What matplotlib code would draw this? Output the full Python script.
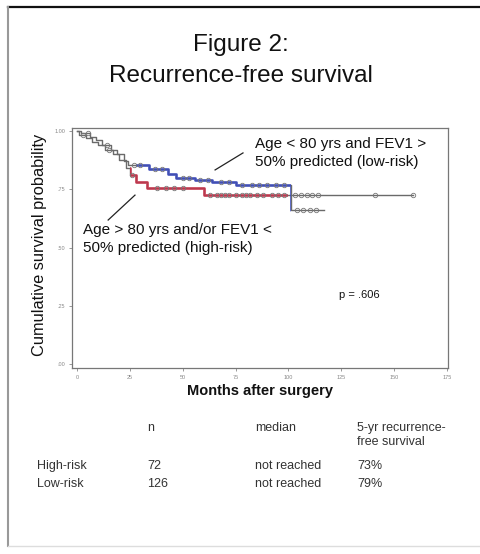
import numpy as np
import matplotlib
matplotlib.use("Agg")
import matplotlib.pyplot as plt
from matplotlib.patches import Rectangle

plt.rcParams['font.family'] = ['Liberation Sans', 'DejaVu Sans']

# Kaplan-Meier step data (months, survival)
low_t = [0, 2, 6, 9, 12, 16, 19, 22, 24, 34, 43, 47, 56, 64, 75, 101, 117]
low_s = [1.0, .99, .975, .96, .94, .92, .90, .87, .855, .835, .815, .80, .79, .78, .77, .66, .66]
high_t = [0, 1, 4, 7, 10, 13, 17, 20, 23, 25, 28, 33, 60, 159]
high_s = [1.0, .985, .97, .955, .94, .92, .90, .875, .84, .81, .78, .755, .725, .725]

# censored observations (months)
low_cens = [5, 14, 27, 30, 37, 40, 50, 53, 58, 62, 68, 72, 78, 83, 86, 90, 94, 98, 104, 107, 110, 113]
high_cens = [3, 15, 26, 38, 42, 46, 50, 63, 66, 68, 70, 72, 75, 78, 80, 82, 85, 88, 92, 95, 98,
             103, 106, 109, 111, 114, 141, 159]

x_ticks = [0, 25, 50, 75, 100, 125, 150, 175]
y_ticks = [0, .25, .5, .75, 1.0]
y_ticklabels = ['.00', '.25', '.50', '.75', '1.00']

table_cols = ['n', 'median', '5-yr recurrence-\nfree survival']
table_rows = ['High-risk', 'Low-risk']
table_n = ['72', '126']
table_median = ['not reached', 'not reached']
table_5yr = ['73%', '79%']

W, H = 481, 554
fig = plt.figure(figsize=(W / 100, H / 100), dpi=100)

def fx(px):
    return px / W

def fy(py):
    return 1 - py / H

# outer frame like a slide
fig.add_artist(plt.Line2D([fx(8), 1], [fy(7), fy(7)], color='#111111', lw=1.6))
fig.add_artist(plt.Line2D([fx(8), fx(8)], [fy(7), fy(546)], color='#999999', lw=1.5))
fig.add_artist(plt.Line2D([fx(8), 1], [fy(546), fy(546)], color='#dddddd', lw=1))

fig.text(0.5, fy(45), 'Figure 2:', ha='center', va='center', fontsize=17.5, color='#111111')
fig.text(0.5, fy(76), 'Recurrence-free survival', ha='center', va='center', fontsize=17.5,
         color='#111111')

ax = fig.add_axes([fx(72), fy(368), fx(448) - fx(72), (368 - 128) / H])
ax.set_xlim(-2.4, 175.5)
ax.set_ylim(-0.017, 1.013)


def surv_at(t, s, x):
    idx = np.searchsorted(t, x, side='right') - 1
    return np.array(s)[idx]


groups = [(high_t, high_s, high_cens, '#c8324a', (25, 75)),
          (low_t, low_s, low_cens, '#3b4bc0', (28, 73))]
for t, s, cens, col, (c0, cw) in groups:
    ax.step(t, s, where='post', color='#6a6a6a', lw=1.0, zorder=2)
    ln, = ax.step(t, s, where='post', color=col, lw=2.0, alpha=0.85, zorder=3)
    ln.set_clip_path(Rectangle((c0, -1), cw, 3, transform=ax.transData))
    ax.plot(cens, surv_at(t, s, cens), ls='none', marker='o', ms=3.2, mfc='none',
            mec='#777777', mew=0.6, zorder=4)

ax.set_xticks(x_ticks)
ax.set_xticklabels([str(v) for v in x_ticks])
ax.set_yticks(y_ticks)
ax.set_yticklabels(y_ticklabels)
ax.tick_params(labelsize=4, colors='#888888', length=2, width=0.6, pad=3)
for sp in ax.spines.values():
    sp.set_color('#777777')
    sp.set_linewidth(0.9)

ax.set_xlabel('Months after surgery', fontsize=10.5, fontweight='bold', color='#111111', labelpad=3)
fig.text(fx(40), fy(245), 'Cumulative survival probability', rotation=90, ha='center',
         va='center', fontsize=11.8, color='#111111')

ax.text(84.2, 0.906, 'Age < 80 yrs and FEV1 >\n50% predicted (low-risk)', fontsize=11,
        va='center', ha='left', linespacing=1.3, color='#111111')
ax.plot([65.3, 78.5], [0.833, 0.906], color='#222222', lw=0.9)
ax.text(2.8, 0.536, 'Age > 80 yrs and/or FEV1 <\n50% predicted (high-risk)', fontsize=11,
        va='center', ha='left', linespacing=1.3, color='#111111')
ax.plot([14.7, 27.4], [0.618, 0.725], color='#222222', lw=0.9)
ax.text(124, 0.295, 'p = .606', fontsize=8, ha='left', va='center', color='#111111')

# summary table under the plot
col_x = [147, 255, 357]
for x, lab in zip(col_x, table_cols):
    fig.text(fx(x), fy(422), lab, ha='left', va='top', fontsize=9, color='#333333',
             linespacing=1.25)
row_y = [466, 484]
for y, r, n, m, p in zip(row_y, table_rows, table_n, table_median, table_5yr):
    for x, v in zip([37] + col_x, [r, n, m, p]):
        fig.text(fx(x), fy(y), v, ha='left', va='center', fontsize=9, color='#333333')

fig.savefig('out.png', dpi=100)
